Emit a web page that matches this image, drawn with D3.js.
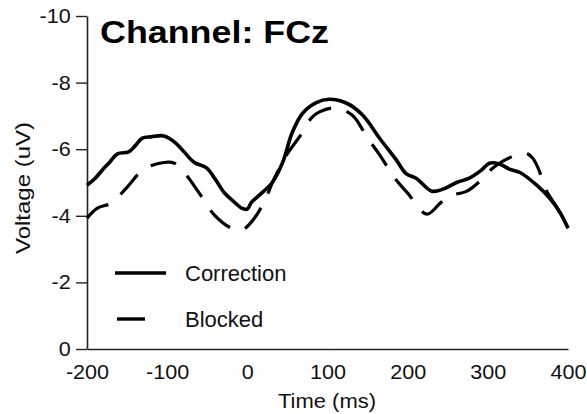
<!DOCTYPE html>
<html>
<head>
<meta charset="utf-8">
<script src="https://cdn.jsdelivr.net/npm/d3@7"></script>
<style>
  html, body { margin: 0; padding: 0; background: #fff; }
  svg { display: block; font-family: "Liberation Sans", Arial, sans-serif; }
</style>
</head>
<body>
<div id="chart"></div>
<script>
'use strict';

// ERP waveforms (time in ms, voltage in uV)
const correctionTime = [-200, -190, -180, -172, -162, -148, -140, -131, -120, -104, -90, -79, -66, -51, -40, -29, -18, -7, 0, 5, 15, 31, 44, 56, 69, 86, 102, 124, 144, 165, 186, 198, 211, 230, 244, 261, 277, 292, 302, 315, 327, 340, 361, 377, 390, 400];
const correctionUv   = [-4.92, -5.12, -5.4, -5.6, -5.86, -5.92, -6.1, -6.33, -6.37, -6.4, -6.2, -5.92, -5.6, -5.44, -5.1, -4.7, -4.45, -4.23, -4.2, -4.4, -4.62, -5.0, -5.6, -6.5, -7.08, -7.4, -7.5, -7.38, -7.02, -6.33, -5.67, -5.27, -5.12, -4.74, -4.8, -5.0, -5.13, -5.37, -5.58, -5.55, -5.4, -5.3, -4.92, -4.53, -4.1, -3.63];

const blockedTime = [-200, -187, -170, -151, -129, -104, -91, -76, -60, -41, -20, -7, 5, 21, 31, 49, 65, 80, 90, 109, 131, 150, 165, 184, 200, 224, 242, 256, 274, 294, 306, 321, 346, 356, 365, 373, 385, 400];
const blockedUv   = [-3.93, -4.23, -4.38, -4.83, -5.4, -5.6, -5.58, -5.22, -4.68, -4.02, -3.63, -3.57, -3.81, -4.41, -4.98, -5.83, -6.37, -6.94, -7.12, -7.24, -7.02, -6.33, -5.83, -5.13, -4.68, -4.05, -4.41, -4.62, -4.74, -5.13, -5.43, -5.67, -5.89, -5.73, -5.3, -4.75, -4.3, -3.63];

const xTicks = [-200, -100, 0, 100, 200, 300, 400];
const yTicks = [-10, -8, -6, -4, -2, 0];
const legendLabels = ['Correction', 'Blocked'];

const W = 587, H = 414;
const x = d3.scaleLinear().domain([-200, 400]).range([87, 568]);
const y = d3.scaleLinear().domain([0, -10]).range([349, 16]);

// plain hyphen minus, as in the original
const fmt = d => String(d);

const svg = d3.select('#chart').append('svg')
  .attr('width', W).attr('height', H);

// axes
const yAxis = svg.append('g')
  .attr('transform', `translate(${x(-200)},0)`)
  .call(d3.axisLeft(y).tickValues(yTicks).tickFormat(fmt)
    .tickSize(11).tickSizeOuter(0).tickPadding(4));
yAxis.select('.domain').attr('stroke', '#222').attr('stroke-width', 1.6);
yAxis.selectAll('.tick line').attr('stroke', '#222').attr('stroke-width', 1.4);
yAxis.selectAll('.tick text').attr('font-size', 20).attr('fill', '#111')
  .attr('font-family', '"Liberation Sans", Arial, sans-serif')
  .attr('transform', 'scale(1.08,1)');

const xAxis = svg.append('g')
  .attr('transform', `translate(0,${y(0)})`)
  .call(d3.axisBottom(x).tickValues(xTicks).tickFormat(fmt)
    .tickSize(0).tickPadding(16));
xAxis.select('.domain').attr('stroke', '#222').attr('stroke-width', 1.6);
xAxis.selectAll('.tick text').attr('font-size', 20).attr('fill', '#111')
  .attr('font-family', '"Liberation Sans", Arial, sans-serif')
  .attr('transform', 'scale(1.08,1)');

// waveforms
const line = d3.line()
  .x(d => x(d[0]))
  .y(d => y(d[1]))
  .curve(d3.curveCatmullRom.alpha(0.5));

const correction = correctionTime.map((t, i) => [t, correctionUv[i]]);
const blocked = blockedTime.map((t, i) => [t, blockedUv[i]]);

svg.append('path')
  .datum(blocked)
  .attr('d', line)
  .attr('fill', 'none')
  .attr('stroke', '#000')
  .attr('stroke-width', 3.2)
  .attr('stroke-dasharray', '26,16');

svg.append('path')
  .datum(correction)
  .attr('d', line)
  .attr('fill', 'none')
  .attr('stroke', '#000')
  .attr('stroke-width', 3.6)
  .attr('stroke-linejoin', 'round');

// title
svg.append('text')
  .attr('x', 100).attr('y', 43)
  .attr('font-size', 32).attr('font-weight', 'bold')
  .attr('textLength', 229).attr('lengthAdjust', 'spacingAndGlyphs')
  .text('Channel: FCz');

// axis titles
svg.append('text')
  .attr('x', 327).attr('y', 408)
  .attr('text-anchor', 'middle')
  .attr('font-size', 20).attr('fill', '#111')
  .attr('textLength', 98).attr('lengthAdjust', 'spacingAndGlyphs')
  .text('Time (ms)');

svg.append('text')
  .attr('transform', 'translate(30,188) rotate(-90)')
  .attr('text-anchor', 'middle')
  .attr('font-size', 21).attr('fill', '#111')
  .attr('textLength', 132).attr('lengthAdjust', 'spacingAndGlyphs')
  .text('Voltage (uV)');

// legend
const legend = svg.append('g');
legend.append('line')
  .attr('x1', 115).attr('x2', 166).attr('y1', 273).attr('y2', 273)
  .attr('stroke', '#000').attr('stroke-width', 3.6);
legend.append('line')
  .attr('x1', 117).attr('x2', 145).attr('y1', 319).attr('y2', 319)
  .attr('stroke', '#000').attr('stroke-width', 3.4);
legend.selectAll('text.lbl')
  .data(legendLabels)
  .join('text')
  .attr('class', 'lbl')
  .attr('x', 185)
  .attr('y', (d, i) => 281 + i * 46)
  .attr('font-size', 22).attr('fill', '#111')
  .text(d => d);
</script>
</body>
</html>
